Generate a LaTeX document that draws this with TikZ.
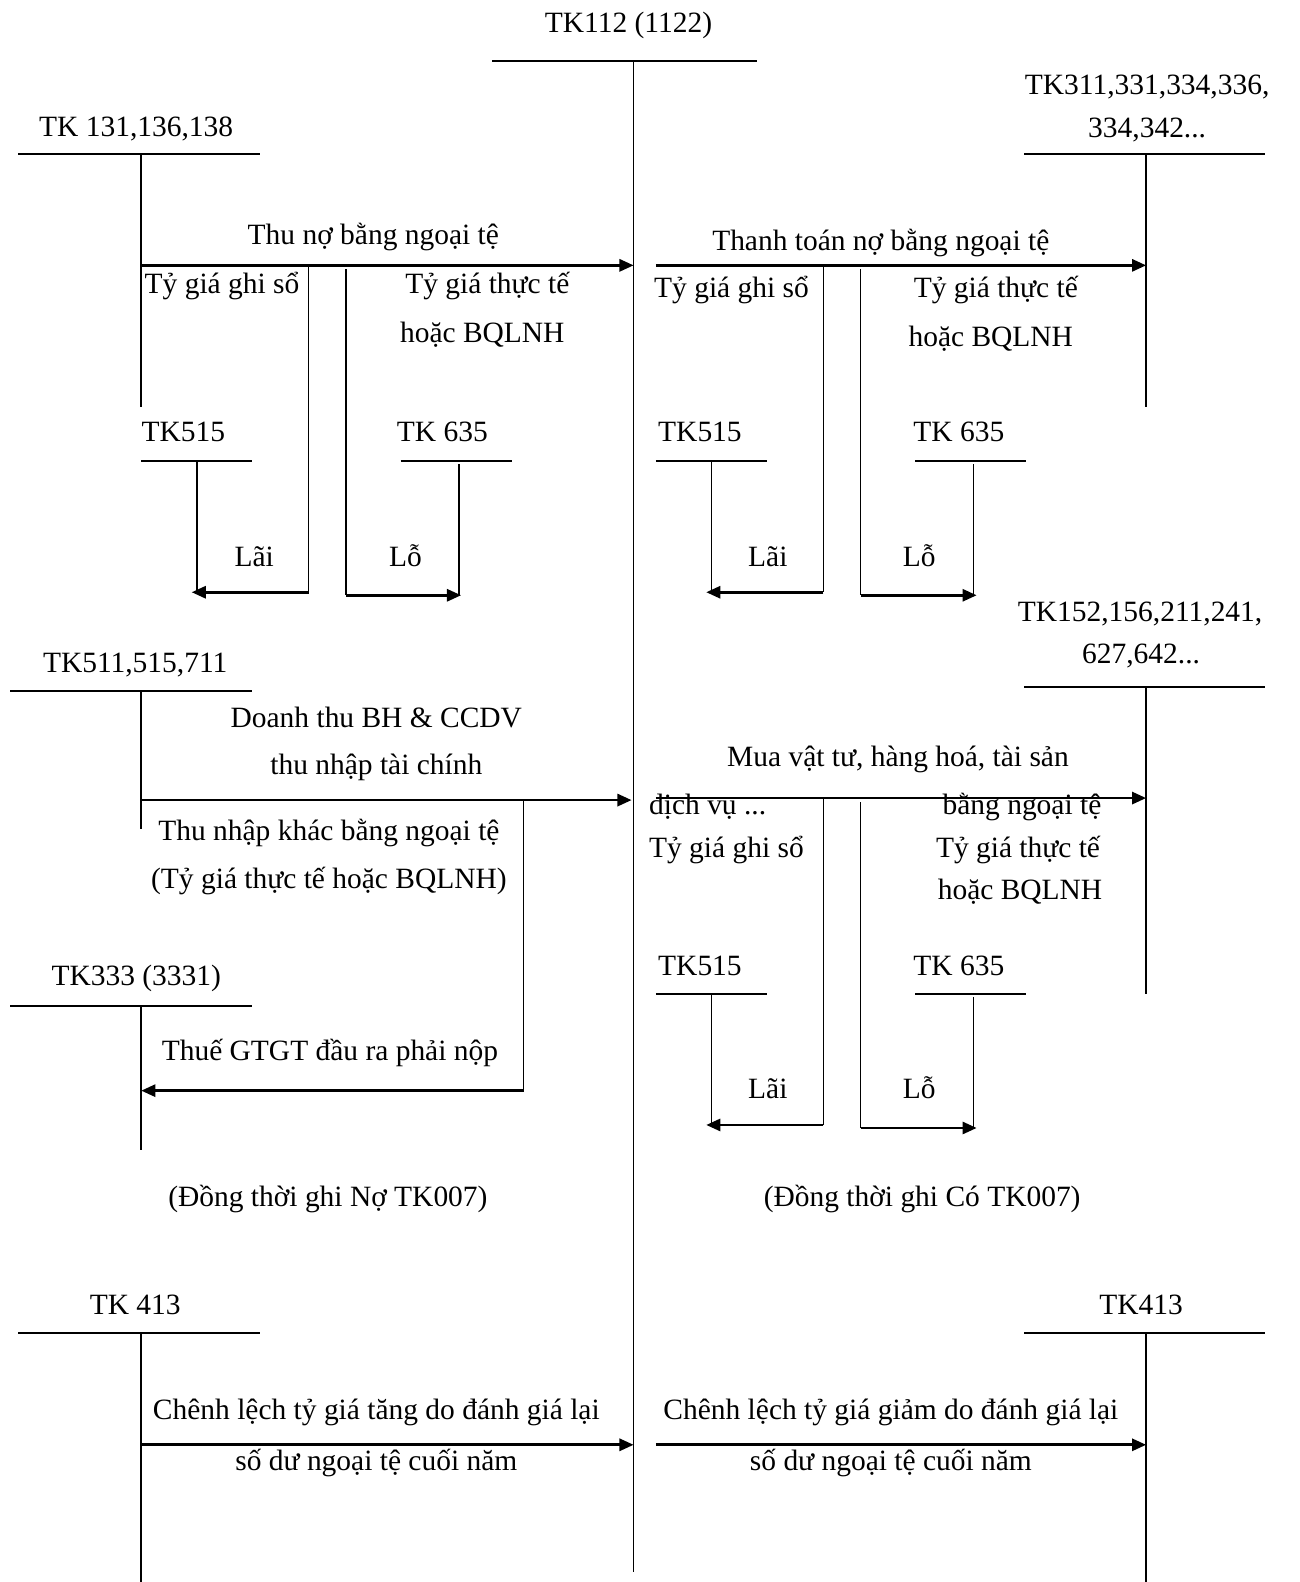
\documentclass[tikz,border=0pt]{standalone}
\usepackage{fontspec}
\setmainfont{Liberation Serif}
\usetikzlibrary{arrows.meta}
\tikzset{
  lbl/.style={inner sep=0pt, font=\fontsize{14.6}{17}\selectfont, anchor=base},
  lblw/.style={lbl, anchor=base west},
  lble/.style={lbl, anchor=base east},
  acct/.style={line width=1pt},
  ln/.style={line width=0.75pt},
  arr/.style={line width=1.3pt, -{Triangle[length=7pt,width=6pt]}},
}
\begin{document}
\begin{tikzpicture}[x=0.5pt,y=-0.5pt]
\useasboundingbox (0,0) rectangle (1288,1568);
% ---------- central account TK112
\node[lbl] (t112) at (623,32) {TK112 (1122)};
\coordinate (m-l) at (488,60); \coordinate (m-r) at (750,60);
\coordinate (m-t) at (628,60); \coordinate (m-b) at (628,1558);
\draw[acct] (m-l) -- (m-r);
\draw[ln] (m-t) -- (m-b);

% ---------- top left TK131
\node[lbl] (t131) at (135,135) {TK 131,136,138};
\coordinate (a-l) at (18,153); \coordinate (a-r) at (258,153);
\coordinate (a-t) at (140,153); \coordinate (a-b) at (140,403);
\draw[acct] (a-l) -- (a-r); \draw[ln] (a-t) -- (a-b);
\coordinate (a1s) at (140,263); \coordinate (a1e) at (628,263);
\draw[arr] (a1s) -- (a1e);
\node[lbl] (a1lab) at (370,242) {Thu nợ bằng ngoại tệ};
\node[lblw] (a1g) at (143,291) {Tỷ giá ghi sổ};
\node[lbl] (a1t1) at (483,291) {Tỷ giá thực tế};
\node[lbl] (a1t2) at (478,339) {hoặc BQLNH};
% TK515 / TK635 (top left)
\node[lblw] (a515) at (140,438) {TK515};
\coordinate (a515l) at (140,457); \coordinate (a515r) at (250,457);
\coordinate (a515t) at (195,457); \coordinate (a515b) at (195,587);
\draw[acct] (a515l) -- (a515r); \draw[ln] (a515t) -- (a515b);
\node[lblw] (a635) at (393,438) {TK 635};
\coordinate (a635l) at (397,457); \coordinate (a635r) at (507,457);
\coordinate (a635t) at (455,460); \coordinate (a635b) at (455,590);
\draw[acct] (a635l) -- (a635r); \draw[ln] (a635t) -- (a635b);
\coordinate (ab1t) at (306,263); \coordinate (ab1c) at (306,587); \coordinate (ab1e) at (190,587);
\draw[ln] (ab1t) -- (ab1c); \draw[arr] (ab1c) -- (ab1e);
\coordinate (ab2t) at (343,267); \coordinate (ab2c) at (343,590); \coordinate (ab2e) at (457,590);
\draw[ln] (ab2t) -- (ab2c); \draw[arr] (ab2c) -- (ab2e);
\node[lbl] (alai) at (252,561) {Lãi};
\node[lbl] (alo) at (402,561) {Lỗ};

% ---------- top right TK311
\node[lbl] (t311a) at (1137,94) {TK311,331,334,336,};
\node[lbl] (t311b) at (1137,136) {334,342...};
\coordinate (b-l) at (1015,153); \coordinate (b-r) at (1254,153);
\coordinate (b-t) at (1136,153); \coordinate (b-b) at (1136,403);
\draw[acct] (b-l) -- (b-r); \draw[ln] (b-t) -- (b-b);
\coordinate (b1s) at (650,263); \coordinate (b1e) at (1136,263);
\draw[arr] (b1s) -- (b1e);
\node[lbl] (b1lab) at (873,248) {Thanh toán nợ bằng ngoại tệ};
\node[lblw] (b1g) at (648,295) {Tỷ giá ghi sổ};
\node[lbl] (b1t1) at (987,295) {Tỷ giá thực tế};
\node[lbl] (b1t2) at (982,343) {hoặc BQLNH};
\node[lblw] (b515) at (652,438) {TK515};
\coordinate (b515l) at (650,457); \coordinate (b515r) at (760,457);
\coordinate (b515t) at (705,457); \coordinate (b515b) at (705,587);
\draw[acct] (b515l) -- (b515r); \draw[ln] (b515t) -- (b515b);
\node[lblw] (b635) at (905,438) {TK 635};
\coordinate (b635l) at (907,457); \coordinate (b635r) at (1017,457);
\coordinate (b635t) at (965,460); \coordinate (b635b) at (965,590);
\draw[acct] (b635l) -- (b635r); \draw[ln] (b635t) -- (b635b);
\coordinate (bb1t) at (816,263); \coordinate (bb1c) at (816,587); \coordinate (bb1e) at (700,587);
\draw[ln] (bb1t) -- (bb1c); \draw[arr] (bb1c) -- (bb1e);
\coordinate (bb2t) at (853,267); \coordinate (bb2c) at (853,590); \coordinate (bb2e) at (968,590);
\draw[ln] (bb2t) -- (bb2c); \draw[arr] (bb2c) -- (bb2e);
\node[lbl] (blai) at (761,561) {Lãi};
\node[lbl] (blo) at (911,561) {Lỗ};

% ---------- middle left TK511
\node[lbl] (t511) at (134,667) {TK511,515,711};
\coordinate (c-l) at (10,685); \coordinate (c-r) at (250,685);
\coordinate (c-t) at (140,685); \coordinate (c-b) at (140,822);
\draw[acct] (c-l) -- (c-r); \draw[ln] (c-t) -- (c-b);
\coordinate (c1s) at (140,793); \coordinate (c1e) at (626,793);
\draw[arr] (c1s) -- (c1e);
\node[lbl] (c1a) at (373,721) {Doanh thu BH \& CCDV};
\node[lbl] (c1b) at (373,768) {thu nhập tài chính};
\node[lbl] (c1c) at (326,833) {Thu nhập khác bằng ngoại tệ};
\node[lbl] (c1d) at (326,881) {(Tỷ giá thực tế hoặc BQLNH)};
\node[lbl] (t333) at (135,977) {TK333 (3331)};
\coordinate (d-l) at (10,997); \coordinate (d-r) at (250,997);
\coordinate (d-t) at (140,997); \coordinate (d-b) at (140,1140);
\draw[acct] (d-l) -- (d-r); \draw[ln] (d-t) -- (d-b);
\coordinate (cb1t) at (519,793); \coordinate (cb1c) at (519,1081); \coordinate (cb1e) at (140,1081);
\draw[ln] (cb1t) -- (cb1c); \draw[arr] (cb1c) -- (cb1e);
\node[lbl] (c1v) at (327,1051) {Thuế GTGT đầu ra phải nộp};
\node[lbl] (cnote) at (325,1196) {(Đồng thời ghi Nợ TK007)};

% ---------- middle right TK152
\node[lbl] (t152a) at (1130,616) {TK152,156,211,241,};
\node[lbl] (t152b) at (1131,658) {627,642...};
\coordinate (e-l) at (1015,681); \coordinate (e-r) at (1254,681);
\coordinate (e-t) at (1136,681); \coordinate (e-b) at (1136,985);
\draw[acct] (e-l) -- (e-r); \draw[ln] (e-t) -- (e-b);
\coordinate (e1s) at (650,791); \coordinate (e1e) at (1136,791);
\draw[arr] (e1s) -- (e1e);
\node[lbl] (e1a) at (890,760) {Mua vật tư, hàng hoá, tài sản};
\node[lblw] (e1b) at (643,807) {dịch vụ ...};
\node[lble] (e1c) at (1092,807) {bằng ngoại tệ};
\node[lblw] (e1g) at (643,850) {Tỷ giá ghi sổ};
\node[lbl] (e1t1) at (1009,850) {Tỷ giá thực tế};
\node[lbl] (e1t2) at (1011,892) {hoặc BQLNH};
\node[lblw] (e515) at (652,967) {TK515};
\coordinate (e515l) at (650,985); \coordinate (e515r) at (760,985);
\coordinate (e515t) at (705,985); \coordinate (e515b) at (705,1115);
\draw[acct] (e515l) -- (e515r); \draw[ln] (e515t) -- (e515b);
\node[lblw] (e635) at (905,967) {TK 635};
\coordinate (e635l) at (907,985); \coordinate (e635r) at (1017,985);
\coordinate (e635t) at (965,988); \coordinate (e635b) at (965,1118);
\draw[acct] (e635l) -- (e635r); \draw[ln] (e635t) -- (e635b);
\coordinate (eb1t) at (816,791); \coordinate (eb1c) at (816,1115); \coordinate (eb1e) at (700,1115);
\draw[ln] (eb1t) -- (eb1c); \draw[arr] (eb1c) -- (eb1e);
\coordinate (eb2t) at (853,795); \coordinate (eb2c) at (853,1118); \coordinate (eb2e) at (968,1118);
\draw[ln] (eb2t) -- (eb2c); \draw[arr] (eb2c) -- (eb2e);
\node[lbl] (elai) at (761,1089) {Lãi};
\node[lbl] (elo) at (911,1089) {Lỗ};
\node[lbl] (enote) at (914,1196) {(Đồng thời ghi Có TK007)};

% ---------- bottom TK413
\node[lbl] (t413a) at (134,1303) {TK 413};
\coordinate (f-l) at (18,1321); \coordinate (f-r) at (258,1321);
\coordinate (f-t) at (140,1321); \coordinate (f-b) at (140,1568);
\draw[acct] (f-l) -- (f-r); \draw[ln] (f-t) -- (f-b);
\coordinate (f1s) at (140,1432); \coordinate (f1e) at (628,1432);
\draw[arr] (f1s) -- (f1e);
\node[lbl] (f1a) at (373,1407) {Chênh lệch tỷ giá tăng do đánh giá lại};
\node[lbl] (f1b) at (373,1457) {số dư ngoại tệ cuối năm};
\node[lbl] (t413b) at (1131,1303) {TK413};
\coordinate (g-l) at (1015,1321); \coordinate (g-r) at (1254,1321);
\coordinate (g-t) at (1136,1321); \coordinate (g-b) at (1136,1568);
\draw[acct] (g-l) -- (g-r); \draw[ln] (g-t) -- (g-b);
\coordinate (g1s) at (650,1432); \coordinate (g1e) at (1136,1432);
\draw[arr] (g1s) -- (g1e);
\node[lbl] (g1a) at (883,1407) {Chênh lệch tỷ giá giảm do đánh giá lại};
\node[lbl] (g1b) at (883,1457) {số dư ngoại tệ cuối năm};
\end{tikzpicture}
\end{document}
